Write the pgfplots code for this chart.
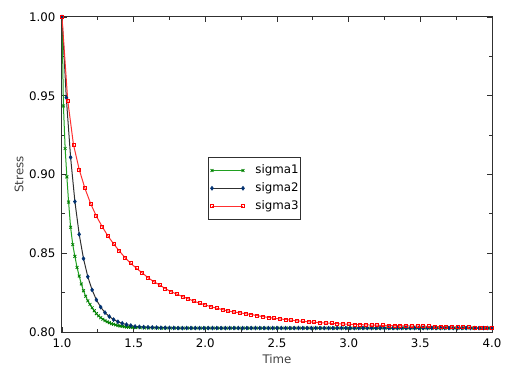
\documentclass[border=0pt]{standalone}
\usepackage{fontspec}
\setmainfont{DejaVu Sans}
\usepackage{pgfplots}
\pgfplotsset{compat=1.18}
\definecolor{gline}{HTML}{20A020}
\definecolor{gmark}{HTML}{007F00}
\definecolor{bline}{HTML}{303030}
\definecolor{bmark}{HTML}{003070}
\definecolor{rline}{HTML}{FF3030}
\definecolor{rmark}{HTML}{FF0000}
\definecolor{frame}{HTML}{303030}
\definecolor{lab}{HTML}{404040}
\begin{document}
\begin{tikzpicture}
\begin{axis}[
  name=ax,
  scale only axis,
  width=430bp, height=315bp,
  xmin=1, xmax=4, ymin=0.8, ymax=1.0,
  xtick={1,1.5,2,2.5,3,3.5,4},
  ytick={0.8,0.85,0.9,0.95,1.0},
  minor x tick num=1, minor y tick num=1,
  tick align=inside,
  major tick length=5bp, minor tick length=3bp,
  tick style={frame, line width=0.8bp},
  axis line style={frame, line width=1bp},
  font=\fontsize{11.8bp}{13bp}\selectfont,
  /pgf/number format/assume math mode=true,
  xticklabel style={/pgf/number format/.cd, fixed, fixed zerofill, precision=1, /tikz/.cd, yshift=-3bp},
  yticklabel style={/pgf/number format/.cd, fixed, fixed zerofill, precision=2, /tikz/.cd, xshift=-3bp},
  scaled y ticks=false,
  xlabel={Time}, ylabel={Stress},
  xlabel style={at={(axis description cs:0.5,-0.0857)}, anchor=center, text=lab},
  ylabel style={at={(axis description cs:-0.1,0.5)}, anchor=center, rotate=0, text=lab},
  legend image code/.code={\draw[#1] plot coordinates {(0bp,0bp) (31bp,0bp)};\path (-2bp,0bp) (42.5bp,0bp);},
  legend style={at={(0.3395,0.5556)}, anchor=north west, draw=frame, line width=1bp, fill=white,
    font=\fontsize{11.8bp}{13bp}\selectfont, inner xsep=1bp, inner ysep=7bp, row sep=5.8bp,
    nodes={inner xsep=0.5bp, inner ysep=0bp, text height=9bp, text depth=3bp}},
  legend cell align=left,
]
\addplot[gline, line width=1bp, mark=x, mark size=2bp, mark options={gmark, line width=0.8bp}] coordinates {
(1.000,1.0000) (1.010,0.9435) (1.022,0.9165) (1.034,0.8985) (1.046,0.8825)
(1.060,0.8665) (1.075,0.8555) (1.090,0.8480) (1.105,0.8410) (1.120,0.8355)
(1.135,0.8305) (1.150,0.8262) (1.165,0.8227) (1.180,0.8198) (1.195,0.8175)
(1.210,0.8154) (1.225,0.8135) (1.240,0.8117) (1.255,0.8103) (1.270,0.8091)
(1.285,0.8081) (1.300,0.8072) (1.315,0.8065) (1.330,0.8059) (1.345,0.8053)
(1.360,0.8049) (1.375,0.8045) (1.390,0.8041) (1.405,0.8038) (1.420,0.8036)
(1.435,0.8034) (1.450,0.8032) (1.465,0.8031) (1.480,0.8030) (1.495,0.8029)
(1.515,0.8028) (1.545,0.8027) (1.575,0.8026) (1.605,0.8026) (1.635,0.8026)
(1.665,0.8025) (1.695,0.8025) (1.725,0.8025) (1.755,0.8025) (1.785,0.8025)
(1.815,0.8025) (1.845,0.8025) (1.875,0.8025) (1.905,0.8025) (1.935,0.8025)
(1.965,0.8025) (1.995,0.8025) (2.025,0.8025) (2.055,0.8025) (2.085,0.8025)
(2.115,0.8025) (2.145,0.8025) (2.175,0.8025) (2.205,0.8025) (2.235,0.8025)
(2.265,0.8025) (2.295,0.8025) (2.325,0.8025) (2.355,0.8025) (2.385,0.8025)
(2.415,0.8025) (2.445,0.8025) (2.475,0.8025) (2.505,0.8025) (2.535,0.8025)
(2.565,0.8025) (2.595,0.8025) (2.625,0.8025) (2.655,0.8025) (2.685,0.8025)
(2.715,0.8025) (2.745,0.8025) (2.775,0.8025) (2.805,0.8025) (2.835,0.8025)
(2.865,0.8025) (2.895,0.8025) (2.925,0.8025) (2.955,0.8025) (2.985,0.8025)
(3.015,0.8025) (3.045,0.8025) (3.075,0.8025) (3.105,0.8025) (3.135,0.8025)
(3.165,0.8025) (3.195,0.8025) (3.225,0.8025) (3.255,0.8025) (3.285,0.8025)
(3.315,0.8025) (3.345,0.8025) (3.375,0.8025) (3.405,0.8025) (3.435,0.8025)
(3.465,0.8025) (3.495,0.8025) (3.525,0.8025) (3.555,0.8025) (3.585,0.8025)
(3.615,0.8025) (3.645,0.8025) (3.675,0.8025) (3.705,0.8025) (3.735,0.8025)
(3.765,0.8025) (3.795,0.8025) (3.825,0.8025) (3.855,0.8025) (3.885,0.8025)
(3.915,0.8025) (3.945,0.8025) (3.975,0.8025) (4.000,0.8025)
};
\addlegendentry{sigma1\hspace{5bp}}
\addplot[bline, line width=1bp, mark=diamond*, mark size=2bp, mark options={bmark, fill=bmark, line width=0.5bp}] coordinates {
(1.00,1.0000) (1.03,0.9488) (1.06,0.9109) (1.09,0.8828) (1.12,0.8620)
(1.15,0.8466) (1.18,0.8351) (1.21,0.8267) (1.24,0.8204) (1.27,0.8158)
(1.30,0.8123) (1.33,0.8098) (1.36,0.8079) (1.39,0.8065) (1.42,0.8055)
(1.45,0.8047) (1.48,0.8041) (1.51,0.8035) (1.54,0.8033) (1.57,0.8031)
(1.60,0.8030) (1.63,0.8029) (1.66,0.8028) (1.69,0.8027) (1.72,0.8027)
(1.75,0.8026) (1.78,0.8026) (1.81,0.8025) (1.84,0.8025) (1.87,0.8025)
(1.90,0.8025) (1.93,0.8025) (1.96,0.8025) (1.99,0.8025) (2.02,0.8025)
(2.05,0.8025) (2.08,0.8025) (2.11,0.8025) (2.14,0.8025) (2.17,0.8025)
(2.20,0.8025) (2.23,0.8025) (2.26,0.8025) (2.29,0.8025) (2.32,0.8025)
(2.35,0.8025) (2.38,0.8025) (2.41,0.8025) (2.44,0.8025) (2.47,0.8025)
(2.50,0.8025) (2.53,0.8025) (2.56,0.8025) (2.59,0.8025) (2.62,0.8025)
(2.65,0.8025) (2.68,0.8025) (2.71,0.8025) (2.74,0.8025) (2.77,0.8025)
(2.80,0.8025) (2.83,0.8025) (2.86,0.8025) (2.89,0.8025) (2.92,0.8025)
(2.95,0.8025) (2.98,0.8025) (3.01,0.8025) (3.04,0.8025) (3.07,0.8025)
(3.10,0.8025) (3.13,0.8025) (3.16,0.8025) (3.19,0.8025) (3.22,0.8025)
(3.25,0.8025) (3.28,0.8025) (3.31,0.8025) (3.34,0.8025) (3.37,0.8025)
(3.40,0.8025) (3.43,0.8025) (3.46,0.8025) (3.49,0.8025) (3.52,0.8025)
(3.55,0.8025) (3.58,0.8025) (3.61,0.8025) (3.64,0.8025) (3.67,0.8025)
(3.70,0.8025) (3.73,0.8025) (3.76,0.8025) (3.79,0.8025) (3.82,0.8025)
(3.85,0.8025) (3.88,0.8025) (3.91,0.8025) (3.94,0.8025) (3.97,0.8025)
(4.00,0.8025)
};
\addlegendentry{sigma2\hspace{5bp}}
\addplot[rline, line width=1bp, mark=square, mark size=1.5bp, mark options={rmark, line width=0.8bp}] coordinates {
(1.00,1.0000) (1.04,0.9470) (1.08,0.9190) (1.12,0.9032) (1.16,0.8912)
(1.20,0.8815) (1.24,0.8735) (1.28,0.8670) (1.32,0.8610) (1.36,0.8560)
(1.40,0.8514) (1.44,0.8472) (1.48,0.8436) (1.52,0.8404) (1.56,0.8375)
(1.60,0.8345) (1.64,0.8320) (1.68,0.8299) (1.72,0.8276) (1.76,0.8256)
(1.80,0.8241) (1.84,0.8225) (1.88,0.8211) (1.92,0.8196) (1.96,0.8183)
(2.00,0.8172) (2.04,0.8160) (2.08,0.8151) (2.12,0.8142) (2.16,0.8133)
(2.20,0.8127) (2.24,0.8122) (2.28,0.8116) (2.32,0.8111) (2.36,0.8104)
(2.40,0.8098) (2.44,0.8092) (2.48,0.8087) (2.52,0.8083) (2.56,0.8079)
(2.60,0.8075) (2.64,0.8071) (2.68,0.8068) (2.72,0.8065) (2.76,0.8062)
(2.80,0.8059) (2.84,0.8057) (2.88,0.8055) (2.92,0.8053) (2.96,0.8051)
(3.00,0.8050) (3.04,0.8048) (3.08,0.8047) (3.12,0.8045) (3.16,0.8044)
(3.20,0.8043) (3.24,0.8042) (3.28,0.8041) (3.32,0.8040) (3.36,0.8040)
(3.40,0.8039) (3.44,0.8038) (3.48,0.8038) (3.52,0.8037) (3.56,0.8036)
(3.60,0.8035) (3.64,0.8034) (3.68,0.8033) (3.72,0.8032) (3.76,0.8031)
(3.80,0.8031) (3.84,0.8030) (3.88,0.8029) (3.92,0.8028) (3.96,0.8028)
(4.00,0.8027)
};
\addlegendentry{sigma3\hspace{5bp}}
\end{axis}
\path ([xshift=-62bp,yshift=-44bp]ax.south west) rectangle ([xshift=23bp,yshift=17bp]ax.north east);
\end{tikzpicture}
\end{document}
